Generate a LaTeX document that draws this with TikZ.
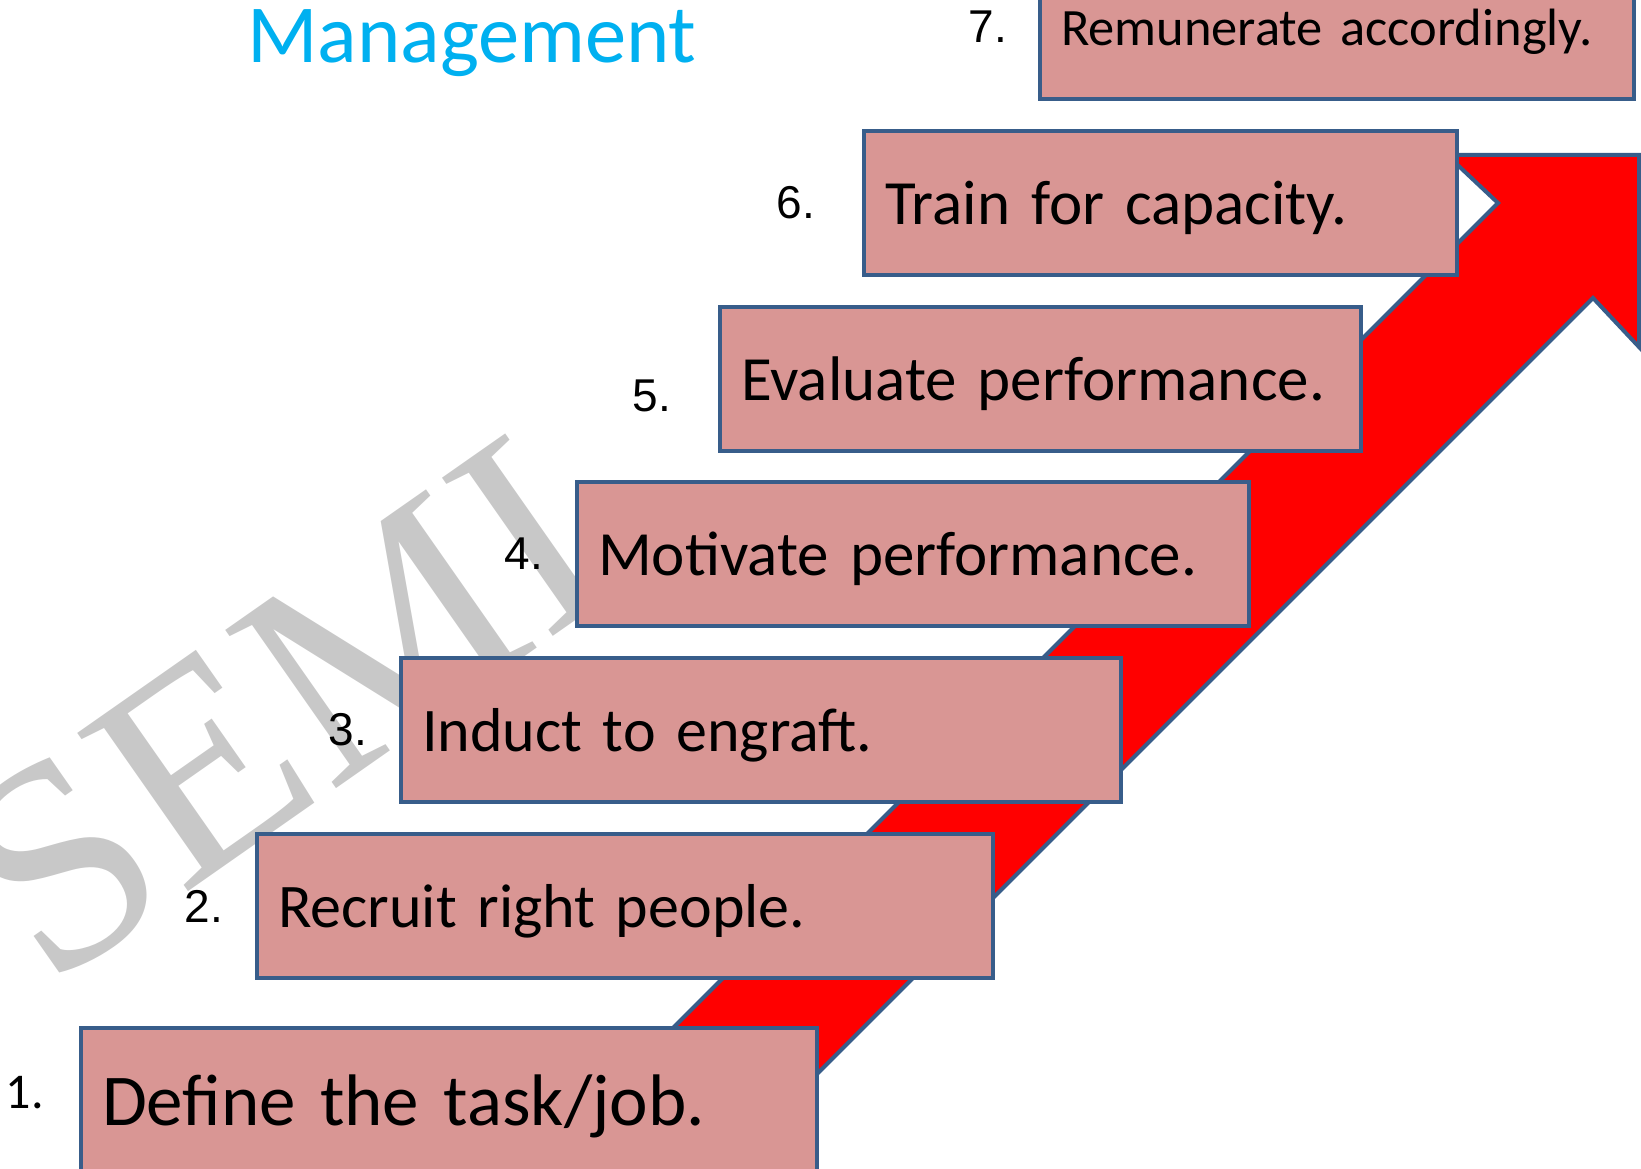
\documentclass[tikz,border=0pt]{standalone}
\usepackage{fontspec}
\setmainfont{Carlito}
\newfontfamily\numfont{Liberation Sans}
\newfontfamily\markfont{Liberation Serif}
\usetikzlibrary{positioning}
\definecolor{stageblue}{HTML}{385D8A}
\definecolor{stagepink}{HTML}{D99694}
\definecolor{titlecyan}{HTML}{00B0F0}
\definecolor{markgray}{RGB}{200,200,200}
\tikzset{stage/.style={rectangle, draw=stageblue, fill=stagepink, line width=4pt,
  outer sep=0pt, inner xsep=21pt, inner ysep=0pt, minimum height=144pt, text depth=0pt,
  anchor=north west, align=left, text width=#1, font=\fontsize{62}{70}\selectfont},
%default text width of a stage box
stage/.default={551pt},
num/.style={inner sep=0pt, font=\numfont\fontsize{46}{50}\selectfont}}

\begin{document}
\begin{tikzpicture}[x=1pt,y=-1pt]
\path[use as bounding box, clip] (0,0) rectangle (1641,1169);

% watermark
\node[rotate=35, anchor=west, inner sep=0pt, text=markgray,
  font=\markfont\fontsize{295}{300}\selectfont] (mark) at (-8,912) {SEMI};

% rising arrow
\draw[stageblue, line width=4pt, fill=red] (541,1160) -- (1498,203) -- (1447,155)
  -- (1639,155) -- (1639,347) -- (1593,298) -- (731,1160) -- cycle;

\node[anchor=base west, inner sep=0pt, text=titlecyan,
  font=\fontsize{82.5}{90}\selectfont] (title) at (247,63) {Management};

% stages
\node[stage=694pt, font=\fontsize{73}{80}\selectfont] (box1) at (81,1028) {Define the task/job.};
\node[stage=694pt] (box2) at (257,834) {Recruit right people.};
\node[stage=678pt] (box3) at (401,658) {Induct to engraft.};
\node[stage=630pt, font=\fontsize{63}{70}\selectfont] (box4) at (577,482) {Motivate performance.};
\node[stage=599pt, font=\fontsize{63}{70}\selectfont] (box5) at (720,307) {Evaluate performance.};
\node[stage=551pt, font=\fontsize{63}{70}\selectfont] (box6) at (864,131) {Train for capacity.};
\node[stage=552pt, font=\fontsize{52.5}{58}\selectfont] (box7) at (1040,-45) {Remunerate accordingly.};

%numbers
\node[num, font=\fontsize{50}{55}\selectfont, left=37pt of box1, yshift=7pt] (n1) {1.};
\node[num, left=34pt of box2] (n2) {2.};
\node[num, left=34pt of box3] (n3) {3.};
\node[num, left=34pt of box4] (n4) {4.};
\node[num, left=49pt of box5, yshift=-17pt] (n5) {5.};
\node[num, left=49pt of box6] (n6) {6.};
\node[num, left=33pt of box7] (n7) {7.};

\end{tikzpicture}
\end{document}
